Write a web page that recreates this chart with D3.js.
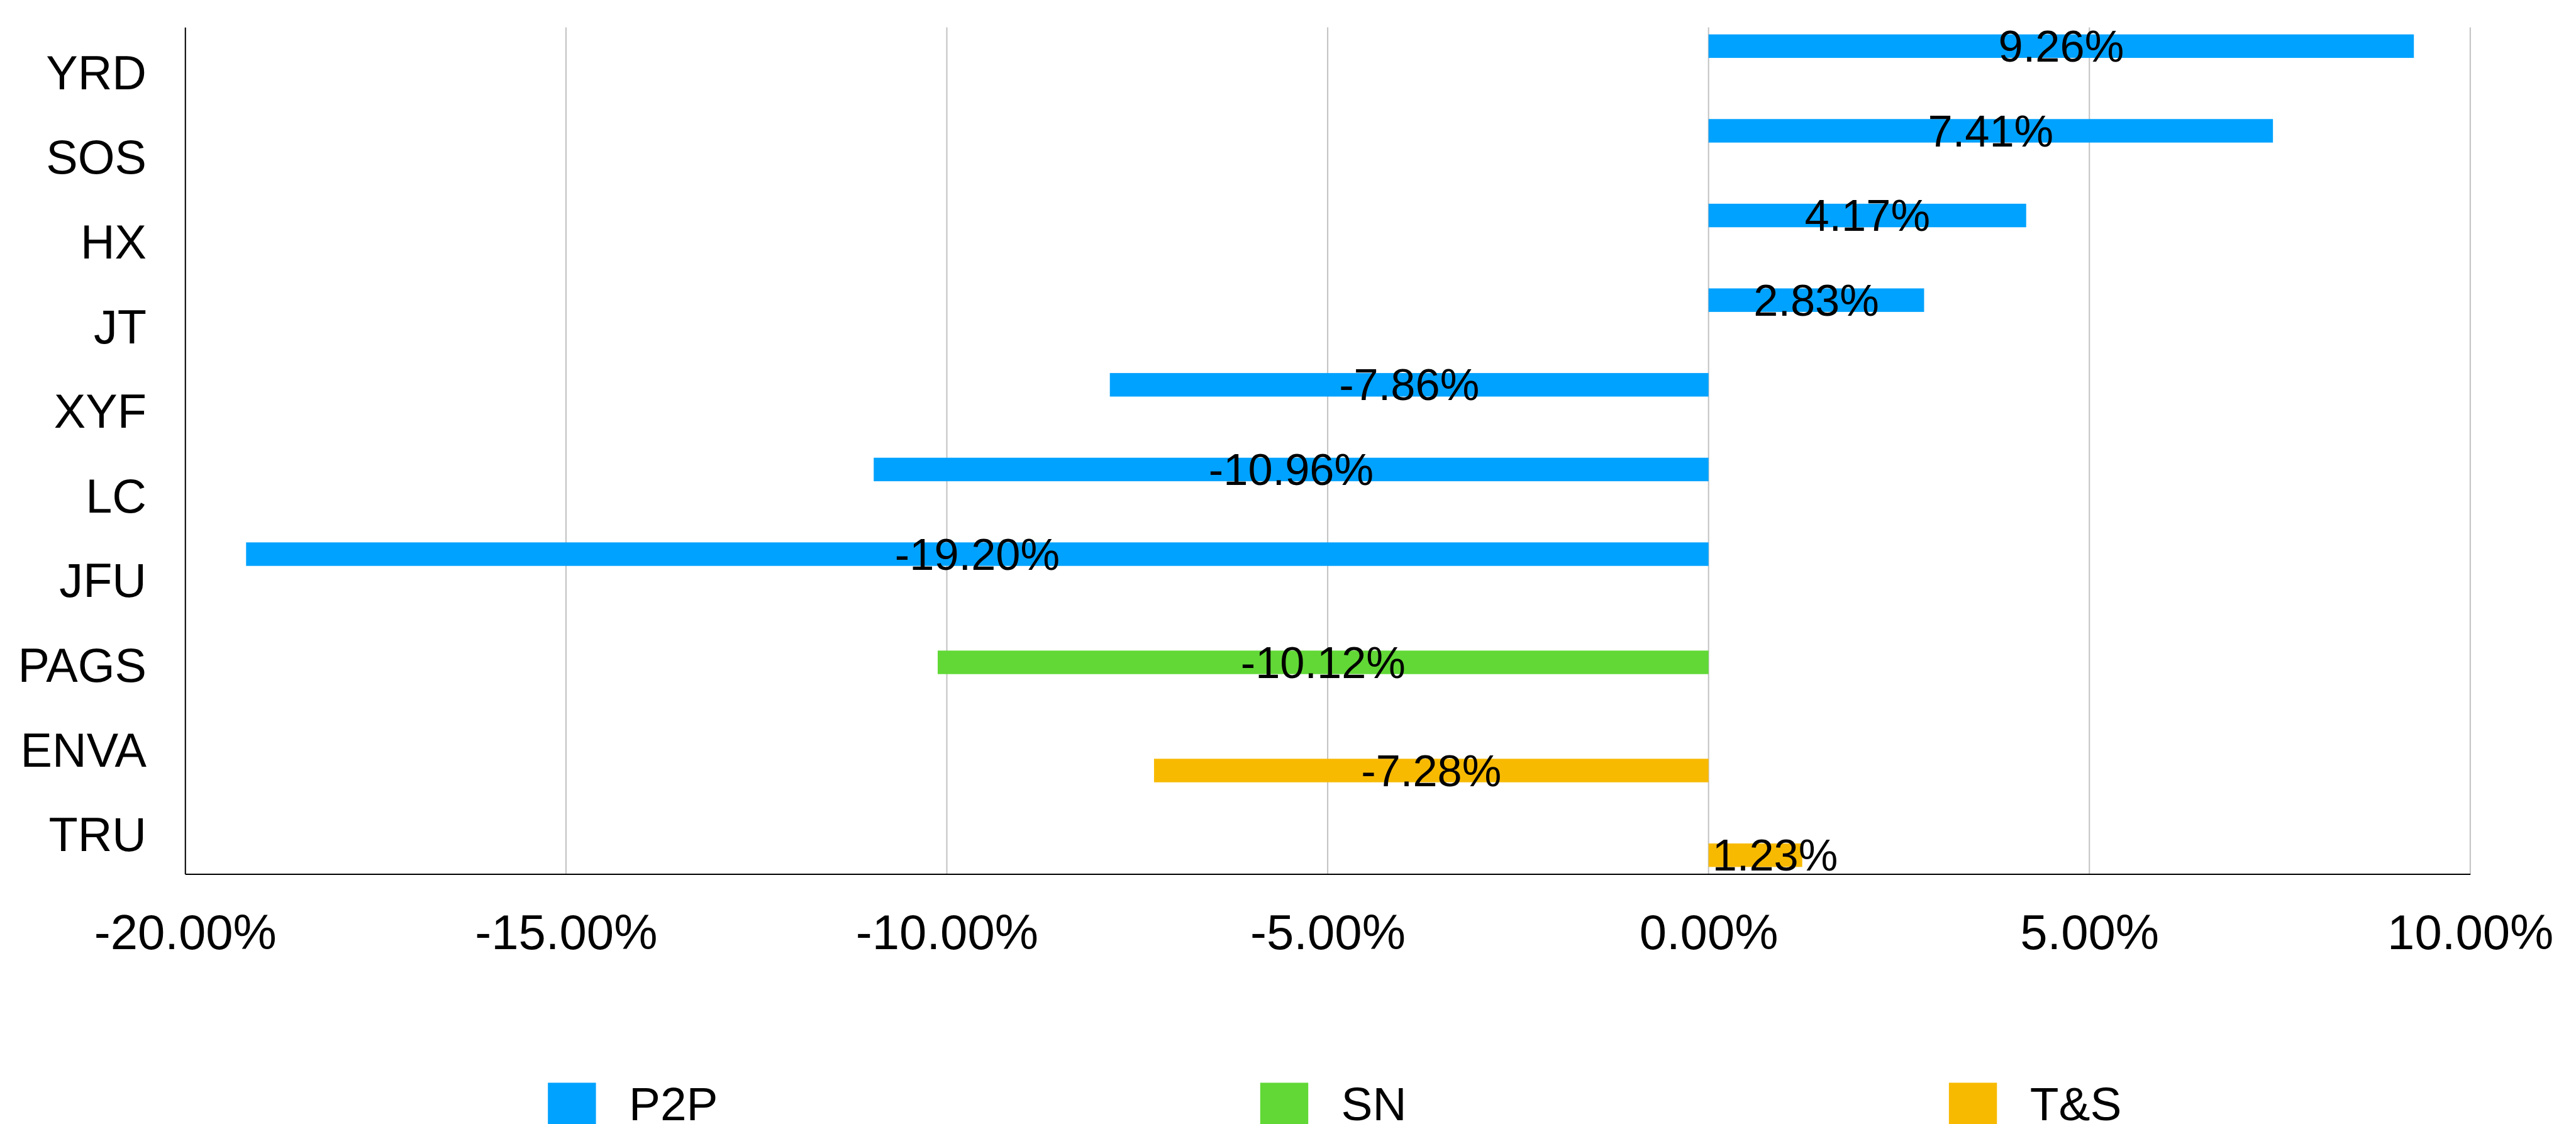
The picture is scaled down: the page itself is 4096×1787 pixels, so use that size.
<!DOCTYPE html>
<html>
<head>
<meta charset="utf-8">
<script src="https://cdn.jsdelivr.net/npm/d3@7"></script>
<style>
  html, body { margin: 0; padding: 0; background: #fff; overflow: hidden; }
  text { font-family: "Liberation Sans", Arial, Helvetica, sans-serif; fill: #000; }
</style>
</head>
<body>
<div id="chart"></div>
<script>
// chart data
var categories = ["YRD", "SOS", "HX", "JT", "XYF", "LC", "JFU", "PAGS", "ENVA", "TRU"];
var seriesNames = ["P2P", "SN", "T&S"];
var values = [9.26, 7.41, 4.17, 2.83, -7.86, -10.96, -19.20, -10.12, -7.28, 1.23];
var valueSeries = ["P2P", "P2P", "P2P", "P2P", "P2P", "P2P", "P2P", "SN", "T&S", "T&S"];
var seriesColors = ["#00A2FF", "#61D836", "#F8BA00"];
var xTicks = [-20, -15, -10, -5, 0, 5, 10];

// reference is 5468 wide, window is 4096
var W = 4096, H = 1787;
var S = W / 5468;

var svg = d3.select("#chart").append("svg")
    .attr("width", W)
    .attr("height", H);

var root = svg.append("g").attr("transform", "scale(" + S + ")");

var xScale = d3.scaleLinear().domain([-20, 10]).range([393, 5243.5]);
var yScale = d3.scaleBand().domain(categories).range([58, 1855]).padding(0);
var inner = d3.scaleBand().domain(seriesNames).range([0, yScale.bandwidth()])
    .paddingInner(0).paddingOuter(0.3);
var color = d3.scaleOrdinal().domain(seriesNames).range(seriesColors);

var rows = categories.map(function (c, i) {
    return { label: c, value: values[i], series: valueSeries[i] };
});

function fmt(v) {
    return v.toFixed(2) + "%";
}

// vertical gridlines
root.append("g")
    .attr("class", "grid")
    .selectAll("line")
    .data(xTicks.filter(function (d) { return d !== -20; }))
    .enter().append("line")
    .attr("x1", function (d) { return xScale(d); })
    .attr("x2", function (d) { return xScale(d); })
    .attr("y1", yScale.range()[0])
    .attr("y2", yScale.range()[1])
    .attr("stroke", "#c2c2c2")
    .attr("stroke-width", 2.7);

// bars
root.append("g")
    .selectAll("rect")
    .data(rows)
    .enter().append("rect")
    .attr("x", function (d) { return xScale(Math.min(0, d.value)); })
    .attr("y", function (d) { return yScale(d.label) + inner(d.series); })
    .attr("width", function (d) { return Math.abs(xScale(d.value) - xScale(0)); })
    .attr("height", inner.bandwidth())
    .attr("fill", function (d) { return color(d.series); });

// axes lines (left and bottom)
var xAxis = d3.axisBottom(xScale).tickValues(xTicks).tickSize(0).tickPadding(0).tickFormat(fmt);
var gx = root.append("g")
    .attr("transform", "translate(0," + yScale.range()[1] + ")")
    .call(xAxis);
gx.select(".domain").attr("stroke", "#000").attr("stroke-width", 2.7);
gx.selectAll(".tick text")
    .attr("y", 0)
    .attr("dy", 0)
    .attr("transform", "translate(0,159)")
    .style("font-size", "104px")
    .style("font-family", '"Liberation Sans", Arial, sans-serif')
    .attr("fill", "#000");

var yAxis = d3.axisLeft(yScale).tickSize(0).tickPadding(0);
var gy = root.append("g")
    .attr("transform", "translate(" + xScale(-20) + ",0)")
    .call(yAxis);
gy.select(".domain").attr("stroke", "#000").attr("stroke-width", 2.7);
gy.selectAll(".tick text")
    .attr("x", -82)
    .attr("dy", "0.41em")
    .style("font-size", "101px")
    .style("font-family", '"Liberation Sans", Arial, sans-serif')
    .attr("fill", "#000");

// value labels, centred on the bar unless the bar is too short
root.append("g")
    .selectAll("text")
    .data(rows)
    .enter().append("text")
    .attr("y", function (d) { return yScale(d.label) + inner(d.series) + inner.bandwidth() / 2; })
    .attr("dy", "0.35em")
    .style("font-size", "94px")
    .text(function (d) { return fmt(d.value); })
    .each(function (d) {
        var t = d3.select(this);
        var len = this.getComputedTextLength();
        var barW = Math.abs(xScale(d.value) - xScale(0));
        if (len > barW) {
            if (d.value >= 0) {
                t.attr("x", xScale(0) + 8).attr("text-anchor", "start");
            } else {
                t.attr("x", xScale(0) - 8).attr("text-anchor", "end");
            }
        } else {
            t.attr("x", (xScale(d.value) + xScale(0)) / 2).attr("text-anchor", "middle");
        }
    });

// legend (sits at the very bottom edge, as in the reference)
var legend = root.append("g").attr("class", "legend");
var lx = 1163;
seriesNames.forEach(function (name, i) {
    var item = legend.append("g").attr("transform", "translate(" + lx + ",2298)");
    item.append("rect")
        .attr("width", 102)
        .attr("height", 102)
        .attr("fill", seriesColors[i]);
    var label = item.append("text")
        .attr("x", 172)
        .attr("y", 80)
        .style("font-size", "100px")
        .text(name);
    lx += 172 + label.node().getComputedTextLength() + 1151;
});
</script>
</body>
</html>
